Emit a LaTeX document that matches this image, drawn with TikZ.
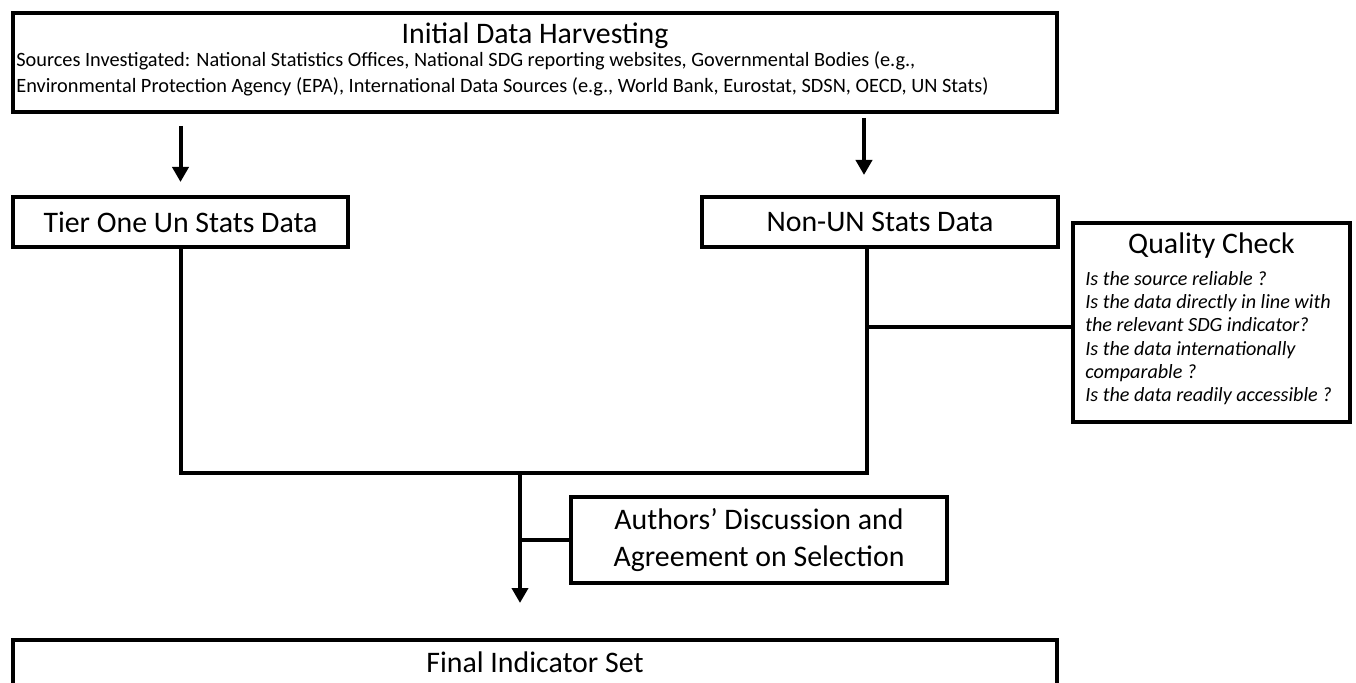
\documentclass[tikz,border=0pt]{standalone}
\usepackage{fontspec}
\setmainfont{Carlito}
\usetikzlibrary{arrows.meta}

\begin{document}
\begin{tikzpicture}[x=0.6pt,y=-0.6pt]

\tikzstyle{box} = [draw=black, line width=2.4pt, outer sep=0pt, inner sep=0pt, rectangle]
\tikzstyle{bigtext} = [font=\fontsize{17.9}{22.2}\selectfont]
\tikzstyle{smalltext} = [font=\fontsize{12.2}{15.6}\selectfont, align=left, inner sep=0pt]
\tikzstyle{checktext} = [font=\fontsize{12.1}{14}\selectfont\itshape, align=left, inner sep=0pt]
\tikzstyle{link} = [line width=2.4pt]
\tikzstyle{flow} = [link, -{Triangle[width=9.6pt,length=9pt]}]

\path[use as bounding box, clip] (0,0) rectangle (1356,683);

% boxes
\node[box, bigtext, at={(535,44)}, anchor=base, minimum width=626.4pt,
  text height=18.6pt, text depth=40.8pt] (harvest) {Initial Data Harvesting};
\node[smalltext, at={(16,93)}, anchor=base west] (sources)
  {Sources Investigated: National Statistics Offices, National SDG reporting websites, Governmental Bodies (e.g.,\\
   Environmental Protection Agency (EPA), International Data Sources (e.g., World Bank, Eurostat, SDSN, OECD, UN Stats)};

\node[box, bigtext, at={(180.5,222)}, minimum width=201pt, minimum height=30pt] (tier) {Tier One Un Stats Data};
\node[box, bigtext, at={(880,222)}, minimum width=213.6pt, minimum height=30pt] (nonun) {Non-UN Stats Data};

\node[box, bigtext, at={(1211.5,254)}, anchor=base, minimum width=166.2pt,
  text height=18.6pt, text depth=100.8pt] (qc) {Quality Check};
\node[checktext, at={(1085,402)}, anchor=base west] (qclist)
  {Is the source reliable ?\\Is the data directly in line with\\the relevant SDG indicator?\\
   Is the data internationally\\comparable ?\\Is the data readily accessible ?};

\node[box, bigtext, align=center, at={(759,540)}, minimum width=225.6pt, minimum height=51.6pt] (authors)
  {Authors’ Discussion and\\Agreement on Selection};

\node[box, bigtext, at={(535,672)}, anchor=base, minimum width=626.4pt,
  text height=19.2pt, text depth=42pt] (final) {Final Indicator Set};

% connectors
\coordinate (join) at (520,473);
\coordinate (nonunin) at ([xshift=-9.6pt]nonun.north);
\coordinate (nonunout) at ([xshift=-7.8pt]nonun.south);
\coordinate (qcin) at ([yshift=-2.7pt]qc.west);

\draw[flow, shorten <=8.4pt, shorten >=9pt] (harvest.south -| tier.north) -- (tier.north);
\draw[flow, shorten <=3.6pt, shorten >=13.2pt] (harvest.south -| nonunin) -- (nonunin);
\draw[link] (tier.south) |- (join) -| (nonunout);
\draw[link] (qcin) -- (qcin -| nonunout);
\draw[link] (authors.west) -- (authors.west -| join);
\draw[flow, shorten >=22.2pt] (join) -- (join |- final.north);

\end{tikzpicture}
\end{document}
